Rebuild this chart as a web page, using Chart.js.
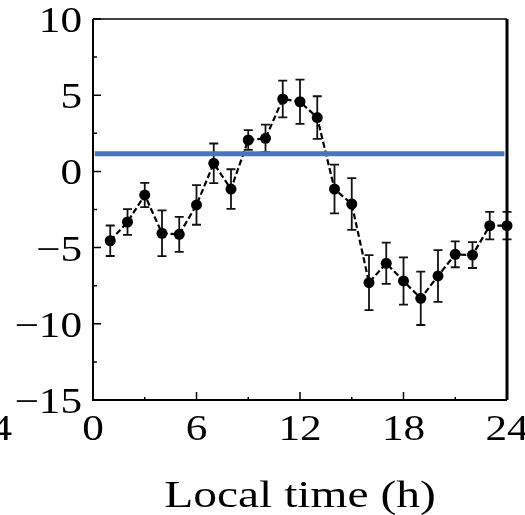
<!DOCTYPE html>
<html>
<head>
<meta charset="utf-8">
<script src="https://cdn.jsdelivr.net/npm/chart.js@4"></script>
<style>
  html, body { margin: 0; padding: 0; background: #fff; }
  #wrap { width: 525px; height: 515px; }
</style>
</head>
<body>
<div id="wrap"><canvas id="diurnalChart"></canvas></div>
<script>
// Hourly means with their standard errors
const hours = [1, 2, 3, 4, 5, 6, 7, 8, 9, 10, 11, 12, 13, 14, 15, 16, 17, 18, 19, 20, 21, 22, 23, 24];
const meanValues = [-4.55, -3.32, -1.55, -4.06, -4.13, -2.2, 0.53, -1.16, 2.06, 2.17, 4.75, 4.57,
  3.53, -1.16, -2.14, -7.3, -6.03, -7.19, -8.33, -6.86, -5.44, -5.49, -3.56, -3.56];
const errValues = [1.0, 0.85, 0.8, 1.5, 1.15, 1.3, 1.3, 1.3, 0.65, 0.9, 1.2, 1.45,
  1.4, 1.6, 1.7, 1.8, 1.35, 1.55, 1.75, 1.7, 0.85, 0.85, 0.9, 0.9];

// Reference level drawn across the panel
const refLevel = 1.15;
const refSpan = [0.1, 23.85];

const xTicks = [0, 6, 12, 18, 24];
const xMinorTicks = [3, 9, 15, 21];
const yTicks = [-15, -10, -5, 0, 5, 10];
const yMinorTicks = [-12.5, -7.5, -2.5, 2.5, 7.5];
const xTitle = 'Local time (h)';

const FONT = '"Liberation Serif", "Times New Roman", serif';

function stretchedText(ctx, text, x, y, align, sx) {
  ctx.save();
  ctx.translate(x, y);
  ctx.scale(sx, 1);
  ctx.textAlign = align;
  ctx.textBaseline = 'alphabetic';
  ctx.fillText(text, 0, 0);
  ctx.restore();
}

function fmt(v) {
  return v < 0 ? '\u2212' + Math.abs(v) : String(v);
}

// error bars go under the line and markers
const errorBars = {
  id: 'errorBars',
  beforeDatasetsDraw(chart) {
    const { ctx, scales: { x, y } } = chart;
    ctx.save();
    ctx.strokeStyle = '#111';
    ctx.lineWidth = 1.8;
    hours.forEach((h, i) => {
      const px = x.getPixelForValue(h);
      const top = y.getPixelForValue(meanValues[i] + errValues[i]);
      const bot = y.getPixelForValue(meanValues[i] - errValues[i]);
      ctx.beginPath();
      ctx.moveTo(px, top); ctx.lineTo(px, bot);
      ctx.moveTo(px - 4.5, top); ctx.lineTo(px + 4.5, top);
      ctx.moveTo(px - 4.5, bot); ctx.lineTo(px + 4.5, bot);
      ctx.stroke();
    });
    ctx.restore();
  }
};

// frame, inward ticks and serif labels
const frameAndLabels = {
  id: 'frameAndLabels',
  afterDraw(chart) {
    const { ctx, chartArea: a, scales: { x, y } } = chart;
    ctx.save();
    ctx.strokeStyle = '#000';
    ctx.lineWidth = 1.5;
    ctx.beginPath(); ctx.moveTo(a.left, a.top); ctx.lineTo(a.right, a.top); ctx.stroke();
    ctx.lineWidth = 2;
    ctx.beginPath(); ctx.moveTo(a.left, a.top); ctx.lineTo(a.left, a.bottom); ctx.lineTo(a.right, a.bottom); ctx.stroke();
    ctx.lineWidth = 3;
    ctx.beginPath(); ctx.moveTo(a.right, a.top); ctx.lineTo(a.right, a.bottom); ctx.stroke();

    ctx.lineWidth = 1.5;
    ctx.beginPath();
    yTicks.forEach(v => {
      const py = y.getPixelForValue(v);
      ctx.moveTo(a.left, py); ctx.lineTo(a.left + 8, py);
    });
    yMinorTicks.forEach(v => {
      const py = y.getPixelForValue(v);
      ctx.moveTo(a.left, py); ctx.lineTo(a.left + 4, py);
    });
    xTicks.forEach(v => {
      const px = x.getPixelForValue(v);
      ctx.moveTo(px, a.bottom); ctx.lineTo(px, a.bottom - 8);
    });
    xMinorTicks.forEach(v => {
      const px = x.getPixelForValue(v);
      ctx.moveTo(px, a.bottom); ctx.lineTo(px, a.bottom - 3);
    });
    ctx.stroke();

    ctx.fillStyle = '#000';
    ctx.font = '36px ' + FONT;
    yTicks.forEach(v => {
      stretchedText(ctx, fmt(v), a.left - 11, y.getPixelForValue(v) + 13, 'right', 1.2);
    });
    xTicks.forEach(v => {
      stretchedText(ctx, fmt(v), x.getPixelForValue(v), a.bottom + 40, 'center', 1.2);
    });
    // neighbouring panel's last hour label, cut by the edge
    stretchedText(ctx, '24', 12, a.bottom + 40, 'right', 1.2);

    ctx.font = '38px ' + FONT;
    stretchedText(ctx, xTitle, (a.left + a.right) / 2, 507, 'center', 1.25);
    ctx.restore();
  }
};

const ctx = document.getElementById('diurnalChart').getContext('2d');
new Chart(ctx, {
  type: 'line',
  data: {
    datasets: [
      {
        label: 'mean',
        data: hours.map((h, i) => ({ x: h, y: meanValues[i] })),
        borderColor: '#000',
        borderWidth: 2.2,
        borderDash: [6, 3],
        pointRadius: 5.5,
        pointBackgroundColor: '#000',
        pointBorderColor: '#000',
        pointBorderWidth: 0,
        tension: 0,
        clip: false,
        order: 2
      },
      {
        label: 'reference',
        data: refSpan.map(h => ({ x: h, y: refLevel })),
        borderColor: '#4677b8',
        borderWidth: 5,
        pointRadius: 0,
        order: 1
      }
    ]
  },
  options: {
    responsive: true,
    maintainAspectRatio: false,
    animation: false,
    layout: { padding: { top: 19, right: 18, left: 0, bottom: 0 } },
    plugins: {
      legend: { display: false },
      tooltip: { enabled: false }
    },
    scales: {
      x: {
        type: 'linear',
        min: 0,
        max: 24,
        grid: { display: false },
        border: { display: false },
        ticks: { display: false, stepSize: 6 },
        afterFit(s) { s.height = 115; s.paddingLeft = 0; s.paddingRight = 0; }
      },
      y: {
        min: -15,
        max: 10,
        grid: { display: false },
        border: { display: false },
        ticks: { display: false, stepSize: 5 },
        afterFit(s) { s.width = 93; s.paddingTop = 0; s.paddingBottom = 0; }
      }
    }
  },
  plugins: [errorBars, frameAndLabels]
});
</script>
</body>
</html>
